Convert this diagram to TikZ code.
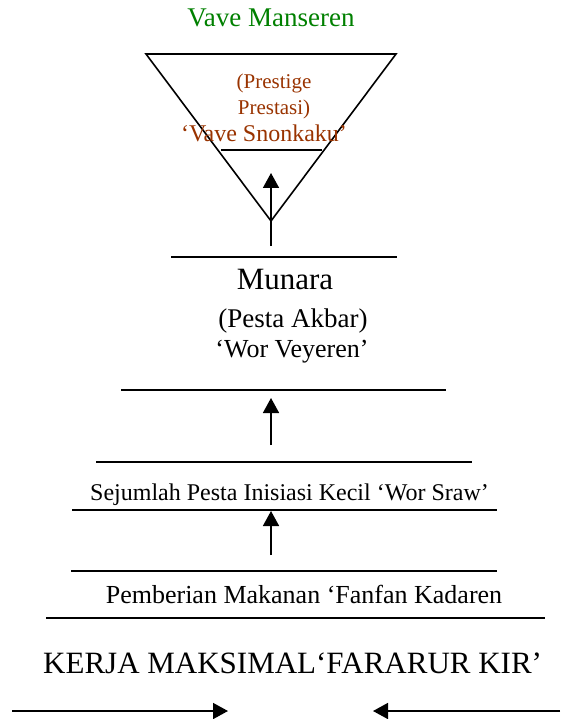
\documentclass[tikz,border=0pt]{standalone}
\usepackage{fontspec}
\setmainfont{Liberation Serif}
\usetikzlibrary{arrows.meta}
\definecolor{manseren}{RGB}{0,128,0}
\definecolor{snonkaku}{RGB}{153,51,0}
\tikzset{
  >={Triangle[length=15pt,width=16pt]},
}
\tikzstyle{level}=[line width=1.6pt]
\tikzstyle{rise}=[line width=1.6pt,->]
\tikzstyle{every node}=[anchor=base,inner sep=0pt]
\newcommand{\fsz}[1]{\fontsize{#1}{#1}\selectfont}

\begin{document}
\begin{tikzpicture}[x=1pt,y=-1pt]
    \useasboundingbox (0,0) rectangle (560,719);
    % top: vave
    \node[font=\fsz{27},text=manseren] (manseren) at (271,27) {Vave Manseren};
    \draw[level,line join=miter] (146,54) -- (396,54) -- (271,221) -- cycle;
    \draw[level] (221,150) -- (322,150);
    \node[font=\fsz{21},text=snonkaku] (prestige) at (274,89) {(Prestige};
    \node[font=\fsz{21},text=snonkaku] (prestasi) at (274,115) {Prestasi)};
    \node[font=\fsz{24},text=snonkaku] (snonkaku) at (264,142) {`Vave Snonkaku'};
    % munara
    \draw[level] (171,257) -- (397,257);
    \node[font=\fsz{31}] (munara) at (285,289) {Munara};
    \node[font=\fsz{27}] (akbar) at (293,327) {(Pesta Akbar)};
    \node[font=\fsz{26}] (veyeren) at (292,357) {`Wor Veyeren'};
    \draw[level] (121,390) -- (446,390);
    % wor sraw
    \draw[level] (96,462) -- (472,462);
    \node[font=\fsz{24}] (sraw) at (289.5,500) {Sejumlah Pesta Inisiasi Kecil `Wor Sraw'};
    \draw[level] (72,510) -- (497,510);
    % fanfan
    \draw[level] (71,571) -- (497,571);
    \node[font=\fsz{26}] (fanfan) at (304,603) {Pemberian Makanan `Fanfan Kadaren};
    \draw[level] (46,618) -- (545,618);
    \node[font=\fsz{31},anchor=base west] (kir) at (43,673) {KERJA MAKSIMAL`FARARUR KIR'};
    % arrows
    \coordinate (a1) at (271,246);  \coordinate (b1) at (271,173);
    \coordinate (a2) at (271,445);  \coordinate (b2) at (271,398);
    \coordinate (a3) at (271,555);  \coordinate (b3) at (271,511);
    \coordinate (l0) at (12,711);   \coordinate (l1) at (228,711);
    \coordinate (r0) at (560,711);  \coordinate (r1) at (373,711);
    \draw[rise] (a1) -- (b1);
    \draw[rise] (a2) -- (b2);
    \draw[rise] (a3) -- (b3);
    \draw[rise] (l0) -- (l1);
    \draw[rise] (r0) -- (r1);
  \end{tikzpicture}
\end{document}
